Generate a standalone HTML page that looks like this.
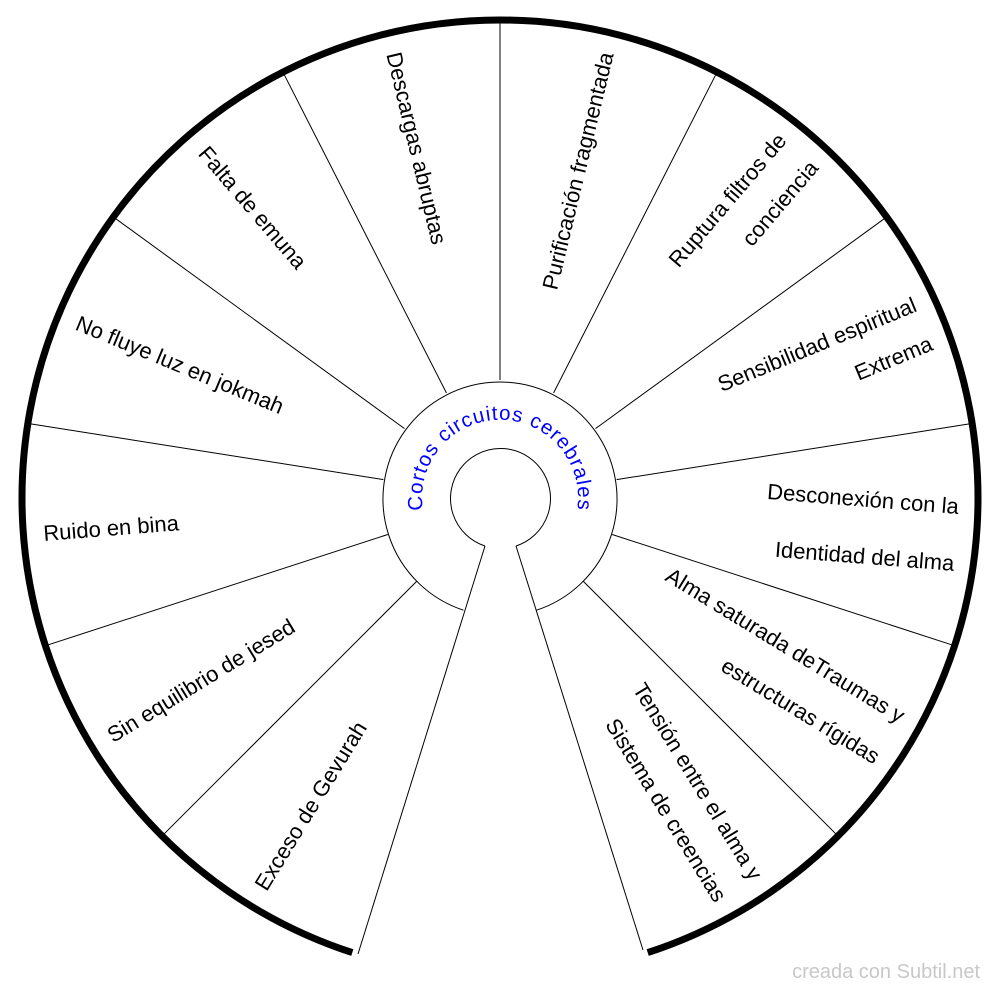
<!DOCTYPE html>
<html><head><meta charset="utf-8"><style>
html,body{margin:0;padding:0;background:#fff;width:1000px;height:993px;overflow:hidden}
svg{display:block}
text{font-family:"Liberation Sans",sans-serif;font-size:22px;fill:#000}
</style></head><body>
<svg width="1000" height="993" viewBox="0 0 1000 993" xmlns="http://www.w3.org/2000/svg">
<g stroke="#000" stroke-width="1" fill="none">
<line x1="500" y1="380" x2="500" y2="22"/>
<line x1="553.6" y1="392.9" x2="715.7" y2="74.8"/>
<line x1="595.5" y1="428.6" x2="884.3" y2="218.7"/>
<line x1="616.6" y1="479.6" x2="969.3" y2="423.9"/>
<line x1="612.2" y1="534.5" x2="951.7" y2="644.8"/>
<line x1="583.4" y1="581.4" x2="835.8" y2="833.8"/>
<line x1="446.4" y1="392.9" x2="284.3" y2="74.8"/>
<line x1="404.5" y1="428.6" x2="115.7" y2="218.7"/>
<line x1="383.4" y1="479.6" x2="30.7" y2="423.9"/>
<line x1="387.8" y1="534.5" x2="48.3" y2="644.8"/>
<line x1="416.6" y1="581.4" x2="164.2" y2="833.8"/>
<line x1="485" y1="546" x2="358" y2="954"/>
<line x1="516" y1="546" x2="643" y2="950"/>
<path d="M463.5 610.2 A117 117 0 1 1 536.5 610.2"/>
<path d="M485 546 A50 50 0 1 1 516 546"/>
</g>
<path d="M352.3 952.6 A478 478 0 1 1 647.7 952.6" stroke="#000" stroke-width="7" fill="none"/>
<defs><path id="cp" d="M432.1 536.2 A78 78 0 1 1 567.9 536.2"/></defs>
<text style="fill:#00f;font-size:20.5px;letter-spacing:1px"><textPath href="#cp" startOffset="50%" text-anchor="middle">Cortos circuitos cerebrales</textPath></text>

<g text-anchor="end">
<text transform="rotate(-76.5 500 498)" x="958" y="505">Purificación fragmentada</text>
<text transform="rotate(-49.5 500 498)" x="958" y="485">Ruptura filtros de</text>
<text transform="rotate(-49.5 500 498)" x="958" y="527">conciencia</text>
<text transform="rotate(-22.5 500 498)" x="958" y="485">Sensibilidad espiritual</text>
<text transform="rotate(-22.5 500 498)" x="958" y="527">Extrema</text>
<text transform="rotate(4.5 500 498)" x="958" y="478">Desconexión con la</text>
<text transform="rotate(4.5 500 498)" x="958" y="535">Identidad del alma</text>
<text transform="rotate(31.5 500 498)" x="958" y="482">Alma saturada deTraumas y</text>
<text transform="rotate(31.5 500 498)" x="958" y="530">estructuras rígidas</text>
<text transform="rotate(58.5 500 498)" x="958" y="485">Tensión entre el alma y</text>
<text transform="rotate(58.5 500 498)" x="958" y="527">Sistema de creencias</text>
</g>
<g text-anchor="start">
<text transform="rotate(76.5 500 498)" x="42" y="505">Descargas abruptas</text>
<text transform="rotate(49.5 500 498)" x="42" y="505">Falta de emuna</text>
<text transform="rotate(22.5 500 498)" x="42" y="505">No fluye luz en jokmah</text>
<text transform="rotate(-4.5 500 498)" x="42" y="505">Ruido en bina</text>
<text transform="rotate(-31.5 500 498)" x="42" y="505">Sin equilibrio de jesed</text>
<text transform="rotate(-58.5 500 498)" x="42" y="505">Exceso de Gevurah</text>
</g>
<text x="980" y="978" text-anchor="end" style="fill:#c8c8c8;font-size:20px">creada con Subtil.net</text>
</svg>
</body></html>
